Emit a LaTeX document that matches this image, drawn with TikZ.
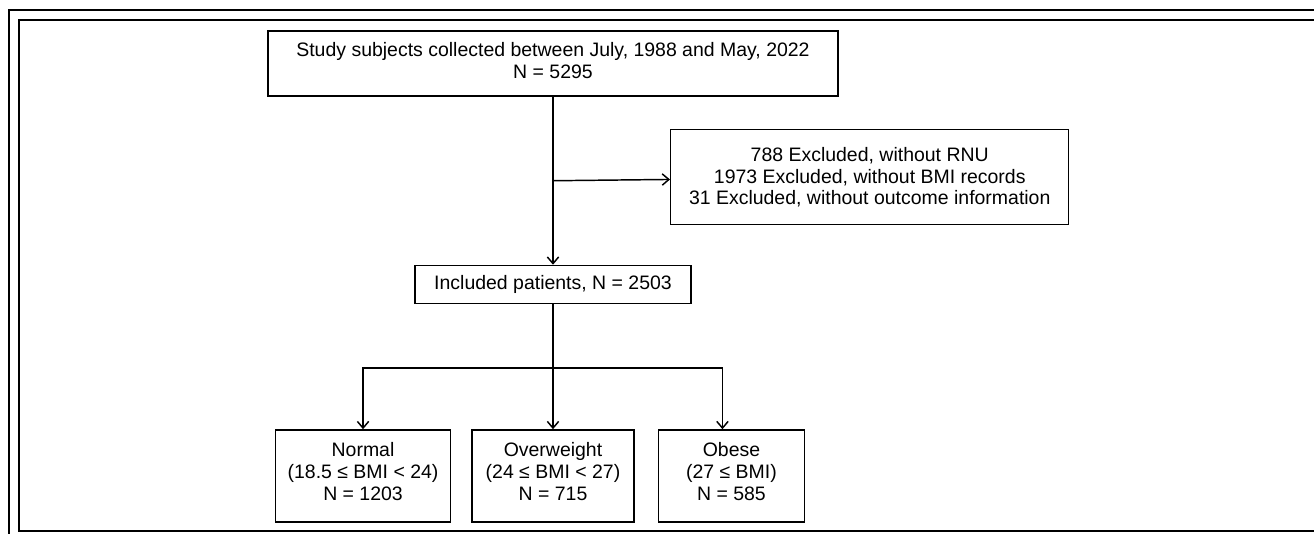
\documentclass[tikz,border=0pt]{standalone}
\usepackage{fontspec}
\setmainfont{Liberation Sans}
\usetikzlibrary{positioning,arrows.meta}

\begin{document}
\begin{tikzpicture}[
    x=0.75pt, y=-0.75pt,
    block/.style={draw, line width=1.1pt, inner sep=0pt, align=center, font=\fontsize{14.6pt}{16.4pt}\selectfont},
    arrow/.style={-{Straight Barb[length=5pt,width=8.5pt,line width=1.1pt]}, line width=1.1pt},
]
\useasboundingbox (0,0) rectangle (1314,534);
\clip (0,0) rectangle (1314,534);
% double frame
\draw[line width=1pt] (9,560) -- (9,10) -- (1340,10);
\draw[line width=1.4pt] (1340,531) -- (19,531) -- (19,20) -- (1340,20);

\node[block, minimum width=427.5pt, minimum height=48.75pt, text depth=4pt] (study) at (553,63.5) {Study subjects collected between July, 1988 and May, 2022\\N = 5295};
\node[block, below=126pt of study, minimum width=207pt, minimum height=28.5pt] (incl) {Included patients, N = 2503};
\coordinate[below=63pt of study] (fork);
\node[block, right=87.75pt of fork, yshift=2.6pt, minimum width=298.5pt, minimum height=71.25pt] (excl) {788 Excluded, without RNU\\1973 Excluded, without BMI records\\31 Excluded, without outcome information};
\draw[arrow] (study) -- (incl);
\draw[arrow] (fork) -- (excl);

\node[block, below=93.75pt of incl, minimum width=121.5pt, minimum height=69pt, text depth=7pt] (over) {Overweight\\(24 ≤ BMI < 27)\\N = 715};
\node[block, left=15pt of over, minimum width=131.25pt, minimum height=69pt, text depth=7pt] (normal) {Normal\\(18.5 ≤ BMI < 24)\\N = 1203};
\node[block, right=17.25pt of over, minimum width=109.5pt, minimum height=69pt, text depth=7pt] (obese) {Obese\\(27 ≤ BMI)\\N = 585};
\coordinate[below=48pt of incl] (split);
\draw[arrow] (incl) -- (over);
\draw[arrow] (split) -| (normal);
\draw[arrow] (split) -| ([xshift=-6.75pt]obese.north);
\end{tikzpicture}
\end{document}
